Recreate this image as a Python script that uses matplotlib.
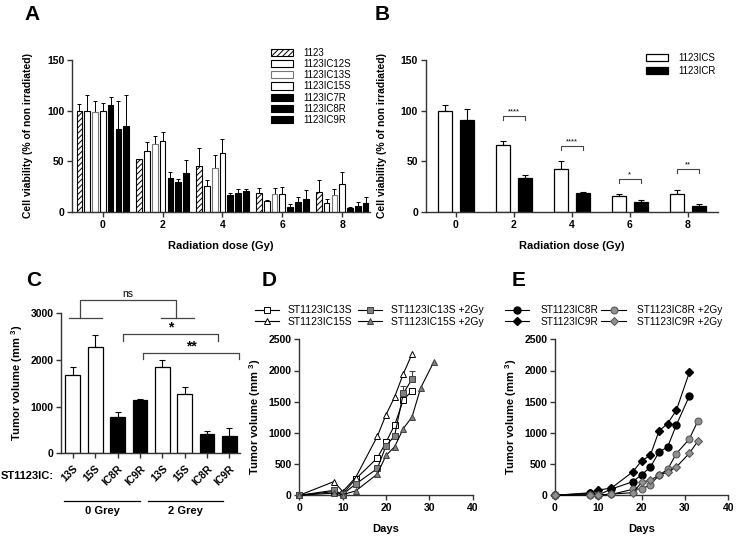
import numpy as np
import matplotlib
matplotlib.use("Agg")
import matplotlib.pyplot as plt
from matplotlib.lines import Line2D
from matplotlib.patches import Patch

plt.rcParams['font.family'] = ['Liberation Sans', 'DejaVu Sans']
plt.rcParams['hatch.linewidth'] = 0.7
plt.rcParams['mathtext.fontset'] = 'custom'
plt.rcParams['mathtext.rm'] = 'Liberation Sans'
plt.rcParams['mathtext.bf'] = 'Liberation Sans:bold'

# -----------------------------
# Data
# -----------------------------
doses = [0, 2, 4, 6, 8]

# Panel A: cell viability per line (value, upper error)
a_names = ["1123", "1123IC12S", "1123IC13S", "1123IC15S", "1123IC7R", "1123IC8R", "1123IC9R"]
a_1123 = [100, 52, 45, 19, 19.5]
a_1123_err = [7, 0.6, 18, 5, 12]
a_12s = [100, 60, 26, 10.5, 9.2]
a_12s_err = [15, 9, 6, 1, 3.3]
a_13s = [98.5, 67, 43, 17.8, 16.8]
a_13s_err = [11, 8, 13, 6, 6]
a_15s = [100, 70, 58, 17.8, 28]
a_15s_err = [8, 9, 14, 7, 11.5]
a_7r = [106, 33.5, 16.5, 5.3, 4]
a_7r_err = [7, 5.5, 2.5, 2.3, 0.9]
a_8r = [82, 30, 19, 10.2, 5.6]
a_8r_err = [28, 3, 4, 4.3, 4.3]
a_9r = [85, 38, 21, 12.5, 8.6]
a_9r_err = [30, 13, 1.6, 9, 6.4]

# Panel B: pooled sensitive / resistant
b_s = [100, 65.7, 42.3, 15.5, 17.8]
b_s_err = [6, 4.3, 7.7, 2.3, 4]
b_r = [91, 33.4, 18.8, 9.6, 6]
b_r_err = [10.7, 3.3, 1.2, 2, 2]
b_sig = ["****", "****", "*", "**"]
b_sig_dose = [2, 4, 6, 8]
b_sig_y = [94.5, 64.7, 32.4, 42.3]

# Panel C: tumor volume
c_labels = ["13S", "15S", "IC8R", "IC9R", "13S", "15S", "IC8R", "IC9R"]
c_vals = [1683, 2270, 784, 1148, 1854, 1270, 420, 377]
c_err = [171, 270, 107, 14, 144, 143, 51, 158]
c_resistant = [False, False, True, True, False, False, True, True]

# Panel D: growth curves (sensitive lines)
d_days = [0, 8, 10, 13, 18, 20, 22, 24, 26]
d_13s = [0, 60, 20, 261, 598, 850, 1127, 1528, 1675]
d_15s = [0, 220, 60, 285, 945, 1290, 1578, 1948, 2263]
d_13s_2gy = [0, 80, 15, 180, 430, 790, 957, 1635, 1860]
d_13s_2gy_err = [0, 0, 0, 0, 0, 0, 0, 117, 140]
d_days_15s_2gy = [0, 8, 10, 13, 18, 20, 22, 24, 26, 28, 31]
d_15s_2gy = [0, 35, 10, 70, 340, 638, 780, 1070, 1255, 1722, 2135]

# Panel E: growth curves (resistant lines)
e_days = [0, 8, 10, 13, 18, 20, 22, 24, 26, 28, 31]
e_8r = [0, 30, 5, 100, 219, 331, 449, 692, 775, 1125, 1590]
e_9r = [0, 40, 85, 115, 379, 553, 640, 1031, 1150, 1362, 1968]
e_days_2gy = [0, 8, 10, 13, 18, 20, 22, 24, 26, 28, 31, 33]
e_8r_2gy = [0, 10, 0, 15, 96, 101, 170, 320, 417, 667, 902, 1196]
e_9r_2gy = [0, 5, 5, 20, 42, 208, 245, 320, 373, 453, 673, 870]

# -----------------------------
# Figure helpers
# -----------------------------
W, H = 736, 537
fig = plt.figure(figsize=(W / 100, H / 100), dpi=100)
AX = '#333333'


def box(left, top, right, bottom):
    return [left / W, 1 - bottom / H, (right - left) / W, (bottom - top) / H]


def style(ax, fs=7.5):
    for s in ['top', 'right']:
        ax.spines[s].set_visible(False)
    for s in ['left', 'bottom']:
        ax.spines[s].set_color(AX)
        ax.spines[s].set_linewidth(1.0)
    ax.tick_params(direction='out', length=3.5, width=1, color=AX, labelsize=fs, pad=2)
    for lab in ax.get_xticklabels() + ax.get_yticklabels():
        lab.set_fontweight('bold')


def letter(px, py, s):
    fig.text(px / W, 1 - py / H, s, fontsize=15, fontweight='bold', va='center', ha='left')


ylab_mm3 = r"Tumor volume (mm $^{\mathbf{3}}$)"

# -----------------------------
# Panel A
# -----------------------------
axA = fig.add_axes(box(72, 60, 370, 212))
a_vals = [a_1123, a_12s, a_13s, a_15s, a_7r, a_8r, a_9r]
a_errs = [a_1123_err, a_12s_err, a_13s_err, a_15s_err, a_7r_err, a_8r_err, a_9r_err]
a_face = ['white', 'white', 'white', 'white', 'black', 'black', 'black']
a_edge = ['black', 'black', '#777777', 'black', 'black', 'black', 'black']
a_hatch = ['//////', None, None, None, None, None, None]
x = np.array(doses, dtype=float)
handles = []
for i in range(7):
    xi = x + (i - 3) * 0.26
    axA.bar(xi, a_vals[i], width=0.19, color=a_face[i], edgecolor=a_edge[i],
            linewidth=0.8, hatch=a_hatch[i], zorder=2)
    axA.errorbar(xi, a_vals[i], yerr=[np.zeros(5), a_errs[i]], fmt='none',
                 ecolor='black', elinewidth=0.7, capsize=1.5, capthick=0.7, zorder=1)
    handles.append(Patch(facecolor=a_face[i], edgecolor=a_edge[i], hatch=a_hatch[i],
                         linewidth=0.8, label=a_names[i]))
axA.set_xlim(-1.03, 8.93)
axA.set_ylim(0, 150)
axA.set_xticks(doses)
axA.set_yticks([0, 50, 100, 150])
style(axA)
axA.set_xlabel("Radiation dose (Gy)", fontsize=8, fontweight='bold', labelpad=8)
axA.set_ylabel("Cell viability (% of non irradiated)", fontsize=7.5, fontweight='bold', labelpad=10)
axA.legend(handles=handles, loc='upper left', bbox_to_anchor=(266 / W, 1 - 43 / H),
           bbox_transform=fig.transFigure, frameon=False, fontsize=7, borderpad=0,
           labelspacing=0.12, handlelength=2.3, handleheight=0.75, handletextpad=1.0)
letter(24, 14, "A")

# -----------------------------
# Panel B
# -----------------------------
axB = fig.add_axes(box(425.7, 60, 718, 212))
axB.bar(x - 0.38, b_s, width=0.48, color='white', edgecolor='black', linewidth=0.9, zorder=2,
        label="1123ICS")
axB.bar(x + 0.38, b_r, width=0.48, color='black', edgecolor='black', linewidth=0.9, zorder=2,
        label="1123ICR")
axB.errorbar(x - 0.38, b_s, yerr=[np.zeros(5), b_s_err], fmt='none', ecolor='black',
             elinewidth=0.8, capsize=2.5, capthick=0.8, zorder=1)
axB.errorbar(x + 0.38, b_r, yerr=[np.zeros(5), b_r_err], fmt='none', ecolor='black',
             elinewidth=0.8, capsize=2.5, capthick=0.8, zorder=1)
for d, yv, s in zip(b_sig_dose, b_sig_y, b_sig):
    axB.plot([d - 0.38, d - 0.38, d + 0.38, d + 0.38], [yv - 3.5, yv, yv, yv - 3.5],
             color='#444444', lw=0.8)
    axB.text(d, yv + 1.2, s, ha='center', va='bottom', fontsize=5.5)
axB.set_xlim(-1.04, 9.04)
axB.set_ylim(0, 150)
axB.set_xticks(doses)
axB.set_yticks([0, 50, 100, 150])
style(axB)
axB.set_xlabel("Radiation dose (Gy)", fontsize=8, fontweight='bold', labelpad=8)
axB.set_ylabel("Cell viability (% of non irradiated)", fontsize=7.5, fontweight='bold', labelpad=10)
axB.legend(loc='upper left', bbox_to_anchor=(641 / W, 1 - 48 / H),
           bbox_transform=fig.transFigure, frameon=False, fontsize=7, borderpad=0,
           labelspacing=0.3, handlelength=2.3, handleheight=0.8, handletextpad=1.0)
letter(375, 14, "B")

# -----------------------------
# Panel C
# -----------------------------
axC = fig.add_axes(box(61, 313.2, 240, 453.3))
cx = np.arange(len(c_vals))
c_face = ['black' if r else 'white' for r in c_resistant]
axC.bar(cx, c_vals, width=0.66, color=c_face, edgecolor='black', linewidth=0.9, zorder=2)
axC.errorbar(cx, c_vals, yerr=[np.zeros(len(c_vals)), c_err], fmt='none', ecolor='black',
             elinewidth=0.8, capsize=2.5, capthick=0.8, zorder=1)
axC.set_xlim(-0.53, 7.48)
axC.set_ylim(0, 3000)
axC.set_yticks([0, 1000, 2000, 3000])
axC.set_xticks(cx)
axC.set_xticklabels(c_labels, rotation=45, ha='right', va='top', rotation_mode='anchor')
style(axC)
axC.tick_params(axis='x', pad=4)
axC.set_ylabel(ylab_mm3, fontsize=8, fontweight='bold', labelpad=4)
br = dict(color='#444444', lw=0.9, clip_on=False)
# ns bracket
axC.plot([-0.17, 1.29], [2904, 2904], **br)
axC.plot([3.95, 5.42], [2904, 2904], **br)
axC.plot([0.34, 0.34, 4.62, 4.62], [2904, 3283, 3283, 2904], **br)
axC.text(2.48, 3300, "ns", ha='center', va='bottom', fontsize=7.5)
# * and ** brackets
axC.plot([2.26, 2.26, 6.51, 6.51], [2410, 2560, 2560, 2410], **br)
axC.text(4.38, 2540, "*", ha='center', va='bottom', fontsize=10, fontweight='bold')
axC.plot([3.16, 3.16, 7.44, 7.44], [2013, 2154, 2154, 2013], **br)
axC.text(5.3, 2134, "**", ha='center', va='bottom', fontsize=10, fontweight='bold')
fig.text(1 / W, 1 - 476 / H, "ST1123IC:", fontsize=8, fontweight='bold', va='center')
fig.add_artist(Line2D([64 / W, 140 / W], [1 - 501 / H, 1 - 501 / H], color='black', lw=0.9))
fig.add_artist(Line2D([147.7 / W, 222.7 / W], [1 - 501 / H, 1 - 501 / H], color='black', lw=0.9))
fig.text(102 / W, 1 - 511 / H, "0 Grey", fontsize=8, fontweight='bold', ha='center', va='center')
fig.text(185 / W, 1 - 511 / H, "2 Grey", fontsize=8, fontweight='bold', ha='center', va='center')
letter(26, 281, "C")

# -----------------------------
# Panel D
# -----------------------------
axD = fig.add_axes(box(299.3, 339.3, 472.7, 495.3))
lk = dict(color='black', lw=0.8, clip_on=False, zorder=3)
axD.plot(d_days, d_13s, marker='s', ms=4.5, mfc='white', mec='black', mew=0.7,
         label="ST1123IC13S", **lk)
axD.plot(d_days, d_15s, marker='^', ms=5, mfc='white', mec='black', mew=0.7,
         label="ST1123IC15S", **lk)
axD.errorbar(d_days, d_13s_2gy, yerr=[np.zeros(len(d_days)), d_13s_2gy_err], fmt='none',
             ecolor='#444444', elinewidth=0.8, capsize=2, capthick=0.8)
axD.plot(d_days, d_13s_2gy, marker='s', ms=4.5, mfc='#808080', mec='#404040', mew=0.7,
         label="ST1123IC13S +2Gy", **lk)
axD.plot(d_days_15s_2gy, d_15s_2gy, marker='^', ms=5, mfc='#808080', mec='#404040', mew=0.7,
         label="ST1123IC15S +2Gy", **lk)
axD.set_xlim(0, 40)
axD.set_ylim(0, 2500)
axD.set_xticks([0, 10, 20, 30, 40])
axD.set_yticks([0, 500, 1000, 1500, 2000, 2500])
style(axD)
axD.set_xlabel("Days", fontsize=8, fontweight='bold', labelpad=8)
axD.set_ylabel(ylab_mm3, fontsize=8, fontweight='bold', labelpad=4)
axD.legend(ncol=2, loc='upper left', bbox_to_anchor=(250 / W, 1 - 300 / H),
           bbox_transform=fig.transFigure, frameon=False, fontsize=7.5, borderpad=0,
           labelspacing=0.15, handlelength=2.3, handletextpad=0.8, columnspacing=0.6)
letter(262, 281, "D")

# -----------------------------
# Panel E
# -----------------------------
axE = fig.add_axes(box(555, 339.3, 728.3, 495.3))
axE.plot(e_days, e_8r, marker='o', ms=5, mfc='black', mec='black', label="ST1123IC8R", **lk)
axE.plot(e_days, e_9r, marker='D', ms=4.5, mfc='black', mec='black', label="ST1123IC9R", **lk)
axE.plot(e_days_2gy, e_8r_2gy, marker='o', ms=5, mfc='#909090', mec='#505050', mew=0.7,
         label="ST1123IC8R +2Gy", **lk)
axE.plot(e_days_2gy, e_9r_2gy, marker='D', ms=4.5, mfc='#909090', mec='#505050', mew=0.7,
         label="ST1123IC9R +2Gy", **lk)
axE.set_xlim(0, 40)
axE.set_ylim(0, 2500)
axE.set_xticks([0, 10, 20, 30, 40])
axE.set_yticks([0, 500, 1000, 1500, 2000, 2500])
style(axE)
axE.set_xlabel("Days", fontsize=8, fontweight='bold', labelpad=8)
axE.set_ylabel(ylab_mm3, fontsize=8, fontweight='bold', labelpad=4)
axE.legend(ncol=2, loc='upper left', bbox_to_anchor=(500 / W, 1 - 300 / H),
           bbox_transform=fig.transFigure, frameon=False, fontsize=7.3, borderpad=0,
           labelspacing=0.15, handlelength=2.4, handletextpad=1.1, columnspacing=0.3)
letter(512, 281, "E")

fig.savefig("out.png", dpi=100)
